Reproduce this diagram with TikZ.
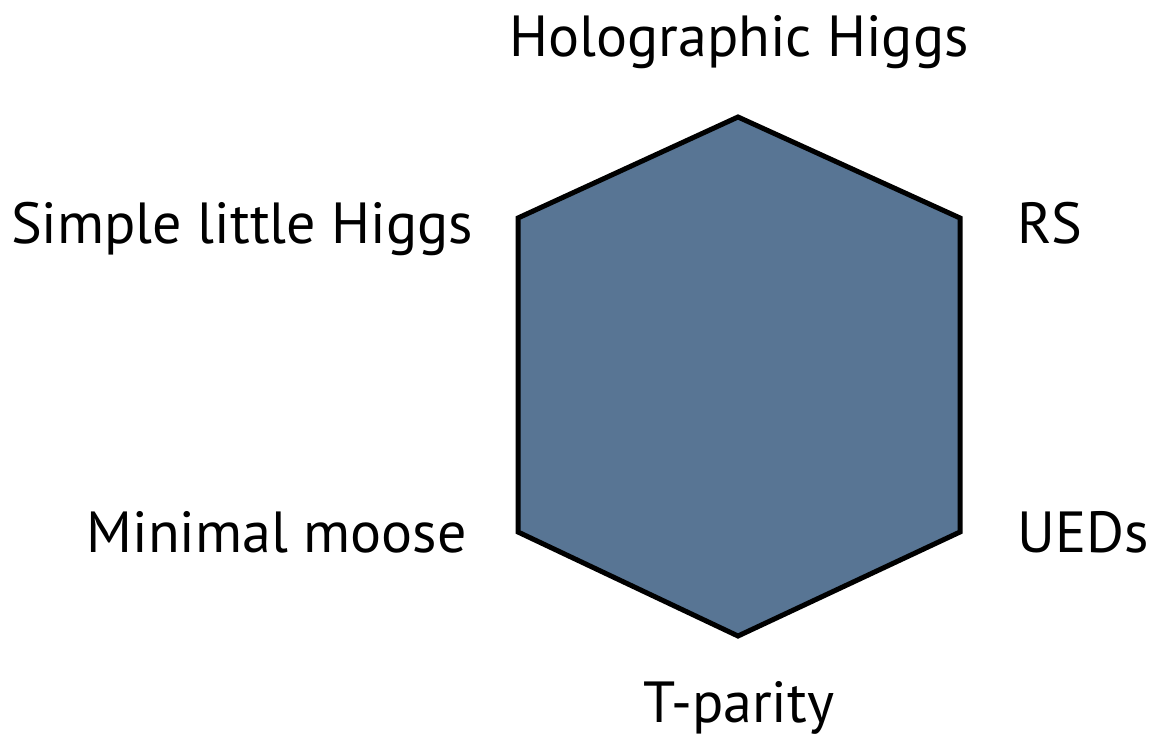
\documentclass[tikz,border=0pt]{standalone}
\usepackage{fontspec}
\setmainfont{PT Sans}
\definecolor{hexfill}{RGB}{88,117,148}
\begin{document}
\begin{tikzpicture}[x=1pt,y=-1pt,
  lbl/.style={inner sep=0pt,font=\fontsize{58}{58}\selectfont},
  hexa/.style={fill=hexfill,draw=black,line width=5pt,line join=miter}]
\useasboundingbox (0,0) rectangle (1169,738);
\coordinate (t) at (738,117);
\coordinate (ur) at (960,218);
\coordinate (lr) at (960,532);
\coordinate (b) at (738,636);
\coordinate (ll) at (518,532);
\coordinate (ul) at (518,218);
\draw[hexa] (t) -- (ur) -- (lr) -- (b) -- (ll) -- (ul) -- cycle;
\node[lbl,anchor=base] (holo) at (739,57) {Holographic Higgs};
\node[lbl,anchor=base east] (slh) at (473,243) {Simple little Higgs};
\node[lbl,anchor=base west] (rs) at (1017,243) {RS};
\node[lbl,anchor=base east] (mm) at (467,552) {Minimal moose};
\node[lbl,anchor=base west] (ued) at (1017,552) {UEDs};
\node[lbl,anchor=base] (tp) at (739,722) {T-parity};
\end{tikzpicture}
\end{document}
